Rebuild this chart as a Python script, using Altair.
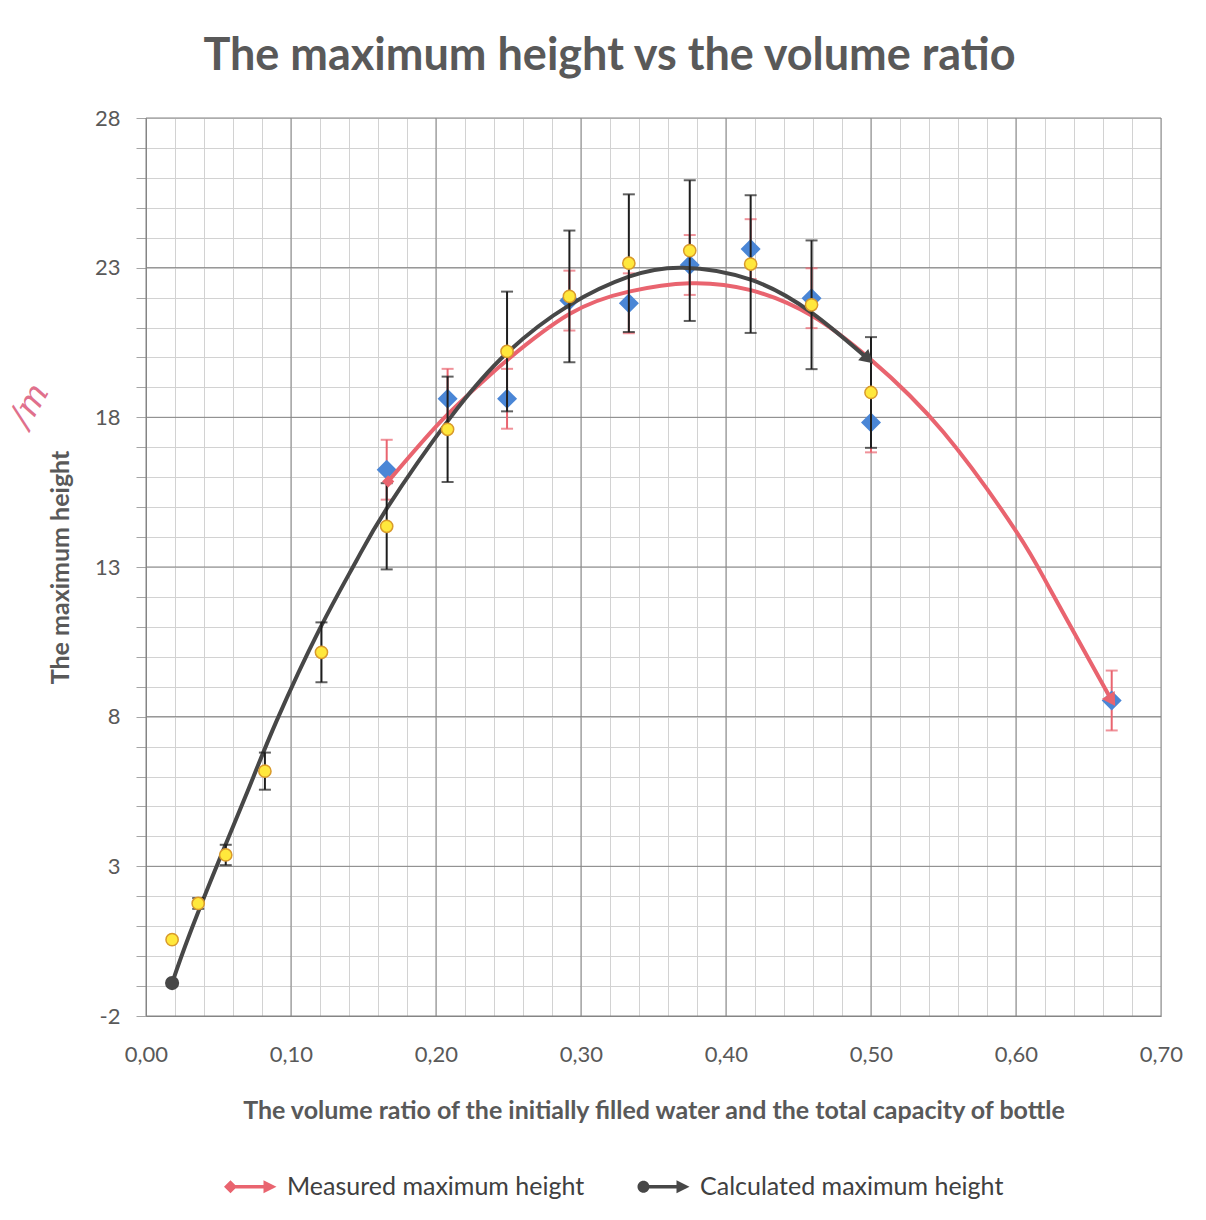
import altair as alt
import pandas as pd

# ---------------- data ----------------
# yellow circles with black error bars
circ_x = [0.018, 0.036, 0.055, 0.082, 0.121, 0.166, 0.208, 0.249, 0.292, 0.333, 0.375, 0.417, 0.459, 0.500]
circ_y = [0.55, 1.76, 3.38, 6.18, 10.15, 14.36, 17.60, 20.20, 22.04, 23.15, 23.57, 23.12, 21.76, 18.83]
circ_err = [0.05, 0.18, 0.34, 0.62, 1.00, 1.44, 1.76, 2.00, 2.20, 2.30, 2.35, 2.30, 2.15, 1.85]

# blue diamonds with red error bars
diam_x = [0.166, 0.208, 0.249, 0.292, 0.333, 0.375, 0.417, 0.459, 0.500, 0.666]
diam_y = [16.25, 18.62, 18.62, 21.90, 21.81, 23.09, 23.62, 21.98, 17.83, 8.54]
diam_err = [1.0, 1.0, 1.0, 1.0, 1.0, 1.0, 1.0, 1.0, 1.0, 1.0]

# measured maximum height (red smoothed line)
meas_x = [0.167, 0.203, 0.230, 0.250, 0.292, 0.333, 0.375, 0.417, 0.459, 0.500, 0.550, 0.600, 0.623, 0.666]
meas_y = [15.86, 17.85, 19.10, 19.95, 21.45, 22.20, 22.48, 22.25, 21.40, 19.92, 17.50, 14.20, 12.30, 8.54]

# calculated maximum height (dark smoothed line)
calc_x = [0.018, 0.030, 0.050, 0.070, 0.090, 0.120, 0.145, 0.166, 0.210, 0.250, 0.292, 0.333, 0.370, 0.417, 0.459, 0.498]
calc_y = [-0.90, 0.72, 3.15, 5.50, 7.85, 10.95, 13.20, 14.95, 18.00, 20.20, 21.75, 22.70, 23.00, 22.60, 21.50, 19.95]

series_names = ["Measured maximum height", "Calculated maximum height"]

x_major = [0.0, 0.1, 0.2, 0.3, 0.4, 0.5, 0.6, 0.7]
y_major = [-2, 3, 8, 13, 18, 23, 28]
x_minor = [round(i * 0.02, 2) for i in range(36)]
y_minor = list(range(-2, 29))

# ---------------- styles ----------------
RED = "#E9646F"
GRAY = "#474747"
TXT = "#595959"
FONT = "Lato"

path_meas = ("M-2.65,0L-2,-0.65L-1.35,0L-2,0.65Z "
             "M-2,-0.18L1.5,-0.18L1.5,0.18L-2,0.18Z "
             "M1.3,-0.65L2.6,0L1.3,0.65Z")
path_calc = ("M-2.6,0A0.6,0.6 0 1 1 -1.4,0A0.6,0.6 0 1 1 -2.6,0Z "
             "M-2,-0.18L1.5,-0.18L1.5,0.18L-2,0.18Z "
             "M1.3,-0.65L2.6,0L1.3,0.65Z")

xscale = alt.Scale(domain=[0, 0.7], nice=False, zero=False)
yscale = alt.Scale(domain=[-2, 28], nice=False, zero=False)

xaxis = alt.Axis(
    values=x_minor,
    title="The volume ratio of the initially filled water and the total capacity of bottle",
    labelExpr="abs(datum.value*10 - round(datum.value*10)) < 0.000001 ? replace(format(datum.value, '.2f'), '.', ',') : ''",
    grid=True, gridColor="#D2D2D2", gridWidth=1,
    tickSize=0, domainColor="#858585",
    labelFont=FONT, labelFontSize=22, labelColor=TXT, labelPadding=28,
    labelOverlap=False, labelFlush=False,
    titleFont=FONT, titleFontSize=25, titleFontWeight="bold", titleColor=TXT, titlePadding=33,
)
yaxis = alt.Axis(
    values=y_minor,
    title="The maximum height",
    labelExpr="(datum.value + 2) % 5 == 0 ? (datum.value < 0 ? '-' + abs(datum.value) : '' + datum.value) : ''",
    grid=True, gridColor="#D2D2D2", gridWidth=1,
    tickSize=10, tickColor="#A6A6A6", domainColor="#858585",
    labelFont=FONT, labelFontSize=22, labelColor=TXT, labelPadding=16,
    labelOverlap=False, labelFlush=False,
    titleFont=FONT, titleFontSize=25, titleFontWeight="bold", titleColor=TXT, titlePadding=21,
)


def X(f):
    return alt.X(f, type="quantitative", scale=xscale, axis=xaxis)


def Y(f):
    return alt.Y(f, type="quantitative", scale=yscale, axis=yaxis)


# ---------------- tables ----------------
circ_df = pd.DataFrame({"x": circ_x, "y": circ_y,
                        "lo": [a - b for a, b in zip(circ_y, circ_err)],
                        "hi": [a + b for a, b in zip(circ_y, circ_err)]})
diam_df = pd.DataFrame({"x": diam_x, "y": diam_y,
                        "lo": [a - b for a, b in zip(diam_y, diam_err)],
                        "hi": [a + b for a, b in zip(diam_y, diam_err)]})
meas_df = pd.DataFrame({"x": meas_x, "y": meas_y})
calc_df = pd.DataFrame({"x": calc_x, "y": calc_y})
gx_df = pd.DataFrame({"x": x_major})
gy_df = pd.DataFrame({"y": y_major})
legend_df = pd.DataFrame({"x": [meas_x[0], calc_x[0]], "y": [meas_y[0], calc_y[0]],
                          "series": series_names})

# ---------------- layers ----------------
grid_x = alt.Chart(gx_df).mark_rule(color="#858585", strokeWidth=1).encode(x=X("x"))
grid_y = alt.Chart(gy_df).mark_rule(color="#858585", strokeWidth=1).encode(y=Y("y"))

red_bars = alt.Chart(diam_df).mark_rule(color=RED, strokeWidth=2).encode(x=X("x"), y=Y("lo"), y2="hi")
red_caps_lo = alt.Chart(diam_df).mark_tick(color=RED, orient="horizontal", size=12, thickness=2).encode(x=X("x"), y=Y("lo"))
red_caps_hi = alt.Chart(diam_df).mark_tick(color=RED, orient="horizontal", size=12, thickness=2).encode(x=X("x"), y=Y("hi"))
diamonds = alt.Chart(diam_df).mark_point(shape="diamond", filled=True, size=400, color="#4A86D6", opacity=1).encode(x=X("x"), y=Y("y"))

meas_line = alt.Chart(meas_df).mark_line(color=RED, strokeWidth=4, interpolate="natural").encode(x=X("x"), y=Y("y"))
calc_line = alt.Chart(calc_df).mark_line(color=GRAY, strokeWidth=4, interpolate="natural").encode(x=X("x"), y=Y("y"))

blk_bars = alt.Chart(circ_df).mark_rule(color="#1E1E1E", strokeWidth=2).encode(x=X("x"), y=Y("lo"), y2="hi")
blk_caps_lo = alt.Chart(circ_df).mark_tick(color="#1E1E1E", orient="horizontal", size=12, thickness=2).encode(x=X("x"), y=Y("lo"))
blk_caps_hi = alt.Chart(circ_df).mark_tick(color="#1E1E1E", orient="horizontal", size=12, thickness=2).encode(x=X("x"), y=Y("hi"))
circles = alt.Chart(circ_df).mark_point(shape="circle", filled=True, size=150, fill="#FFE83C",
                                        stroke="#D99A2B", strokeWidth=1.5, opacity=1).encode(x=X("x"), y=Y("y"))

meas_start = alt.Chart(meas_df.head(1)).mark_point(shape="diamond", filled=True, size=150, color=RED, opacity=1).encode(x=X("x"), y=Y("y"))
calc_start = alt.Chart(calc_df.head(1)).mark_point(shape="circle", filled=True, size=200, color=GRAY, opacity=1).encode(x=X("x"), y=Y("y"))
meas_arrow = alt.Chart(meas_df.tail(1)).mark_point(shape="triangle-right", filled=True, size=230, color=RED,
                                                    opacity=1, angle=58).encode(x=X("x"), y=Y("y"))
calc_arrow = alt.Chart(calc_df.tail(1)).mark_point(shape="triangle-right", filled=True, size=230, color=GRAY,
                                                    opacity=1, angle=42).encode(x=X("x"), y=Y("y"))

leg = alt.Legend(orient="none", legendX=92, legendY=1056, direction="horizontal",
                 title=None, symbolSize=400, symbolStrokeWidth=0, symbolOpacity=1,
                 labelFont=FONT, labelFontSize=25, labelColor="#404040",
                 labelOffset=24, columnPadding=52, padding=0, labelLimit=0)

legend_layer = alt.Chart(legend_df).mark_point(filled=True, opacity=0).encode(
    x=X("x"), y=Y("y"),
    color=alt.Color("series:N", scale=alt.Scale(domain=series_names, range=[RED, GRAY]), legend=leg),
    shape=alt.Shape("series:N", scale=alt.Scale(domain=series_names, range=[path_meas, path_calc]), legend=leg),
)

note = alt.Chart(pd.DataFrame({"x": [-0.08], "y": [18.4], "t": ["/m"]})).mark_text(
    font="DejaVu Serif", fontStyle="italic", fontSize=34, color="#E0708C", angle=300, clip=False
).encode(x=X("x"), y=Y("y"), text="t:N")

chart = alt.layer(
    grid_x, grid_y,
    red_bars, red_caps_lo, red_caps_hi, diamonds,
    meas_line, calc_line,
    blk_bars, blk_caps_lo, blk_caps_hi, circles,
    meas_start, calc_start, meas_arrow, calc_arrow,
    legend_layer, note,
).properties(
    width=1015, height=898,
    autosize=alt.AutoSizeParams(type="none"),
    padding={"left": 146, "top": 118, "right": 45, "bottom": 204},
    title=alt.TitleParams(text="The maximum height vs the volume ratio", font=FONT, fontSize=45,
                          fontWeight="bold", color=TXT, anchor="middle", dx=-44, offset=28),
).configure_view(stroke=None).configure(background="white")

chart.save("out.html", embed_options={"renderer": "svg", "actions": False})
